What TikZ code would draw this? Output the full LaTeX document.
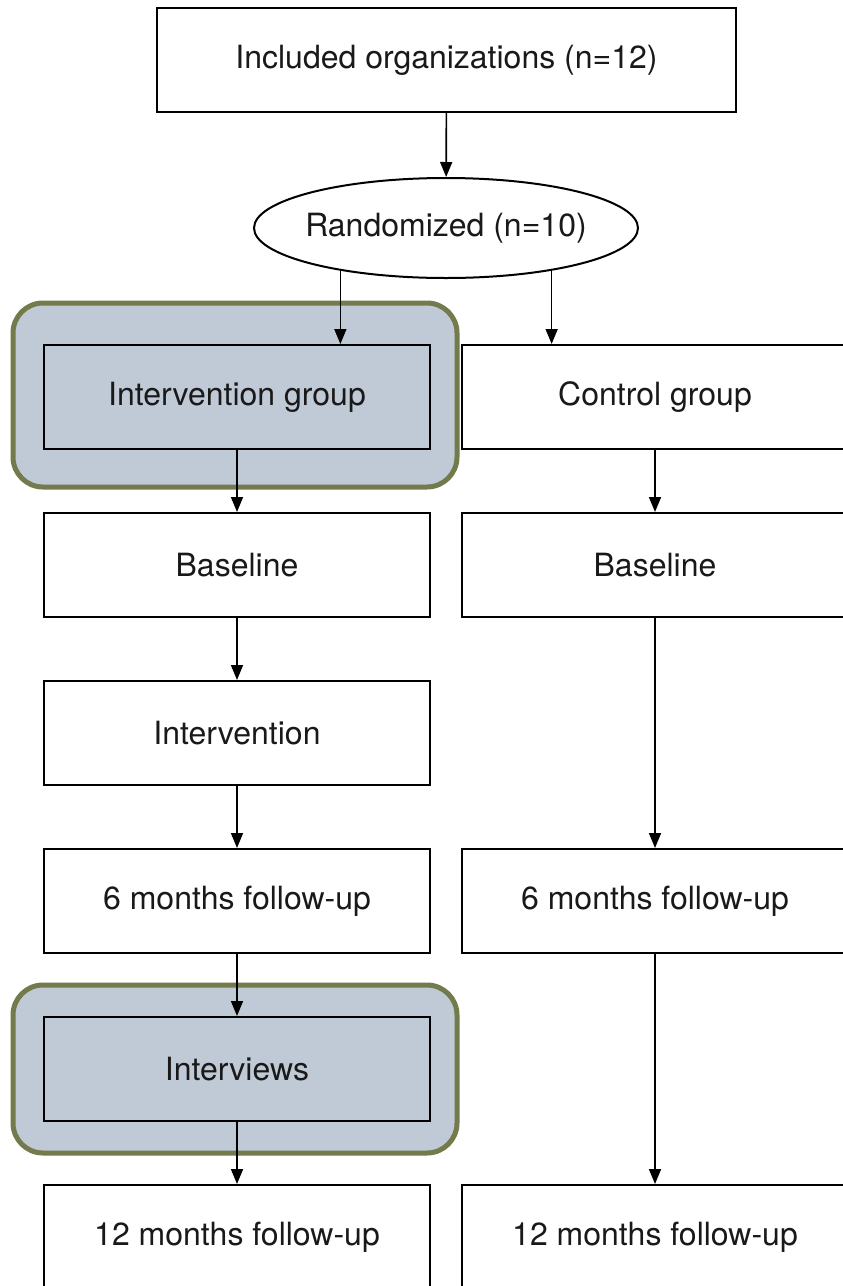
\documentclass[tikz,border=0pt]{standalone}
\usepackage{fontspec}
\setmainfont{TeX Gyre Heros}
\usetikzlibrary{arrows.meta,shapes.geometric}
\definecolor{hlfill}{HTML}{C0CAD6}
\definecolor{hlborder}{HTML}{737A4B}
\begin{document}
\begin{tikzpicture}[x=1pt,y=-1pt,
  every node/.style={font=\fontsize{32}{38}\selectfont},
  stagebox/.style={draw=black, line width=2pt, fill=white, minimum width=386pt, minimum height=104pt, inner sep=0pt, text=black!90},
  inbox/.style={stagebox, fill=none},
  hlbox/.style={draw=hlborder, line width=5pt, fill=hlfill, rounded corners=30pt, minimum width=444pt, inner sep=0pt},
  conn/.style={draw=black, line width=1.6pt, -{Triangle[length=15pt,width=12pt]}}
]
\useasboundingbox (0,0) rectangle (843,1286);
\clip (0,0) rectangle (843,1286);
\fill[white] (0,0) rectangle (843,1286);

% highlight panels
\node[hlbox, minimum height=184pt] (hl1) at (235,395) {};
\node[hlbox, minimum height=168pt] (hl2) at (235,1069) {};

% top
\node[stagebox, minimum width=579pt] (inc) at (446.5,60) {Included organizations (n=12)};
\node[draw=black, line width=2pt, fill=white, ellipse, minimum width=384pt, minimum height=100pt, inner ysep=0pt, inner xsep=-14pt, text=black!90] (rand) at (446,228) {Randomized (n=10)};

% left column
\node[inbox] (ig) at (237,397) {Intervention group};
\node[stagebox] (bl) at (237,565) {Baseline};
\node[stagebox] (iv) at (237,733) {Intervention};
\node[stagebox] (fl) at (237,901) {6 months follow-up};
\node[inbox] (int) at (237,1069) {Interviews};
\node[stagebox] (tl) at (237,1237) {12 months follow-up};

% right column
\node[stagebox] (cg) at (655,397) {Control group};
\node[stagebox] (br) at (655,565) {Baseline};
\node[stagebox] (fr) at (655,901) {6 months follow-up};
\node[stagebox] (tr) at (655,1237) {12 months follow-up};

% connectors
\draw[conn] (inc) -- (rand);
\draw[conn] (rand.202) -- (rand.202 |- ig.north);
\draw[conn] (rand.338) -- (rand.338 |- cg.north);
\draw[conn] (ig) -- (bl);
\draw[conn] (bl) -- (iv);
\draw[conn] (iv) -- (fl);
\draw[conn] (fl) -- (int);
\draw[conn] (int) -- (tl);
\draw[conn] (cg) -- (br);
\draw[conn] (br) -- (fr);
\draw[conn] (fr) -- (tr);
\end{tikzpicture}
\end{document}
